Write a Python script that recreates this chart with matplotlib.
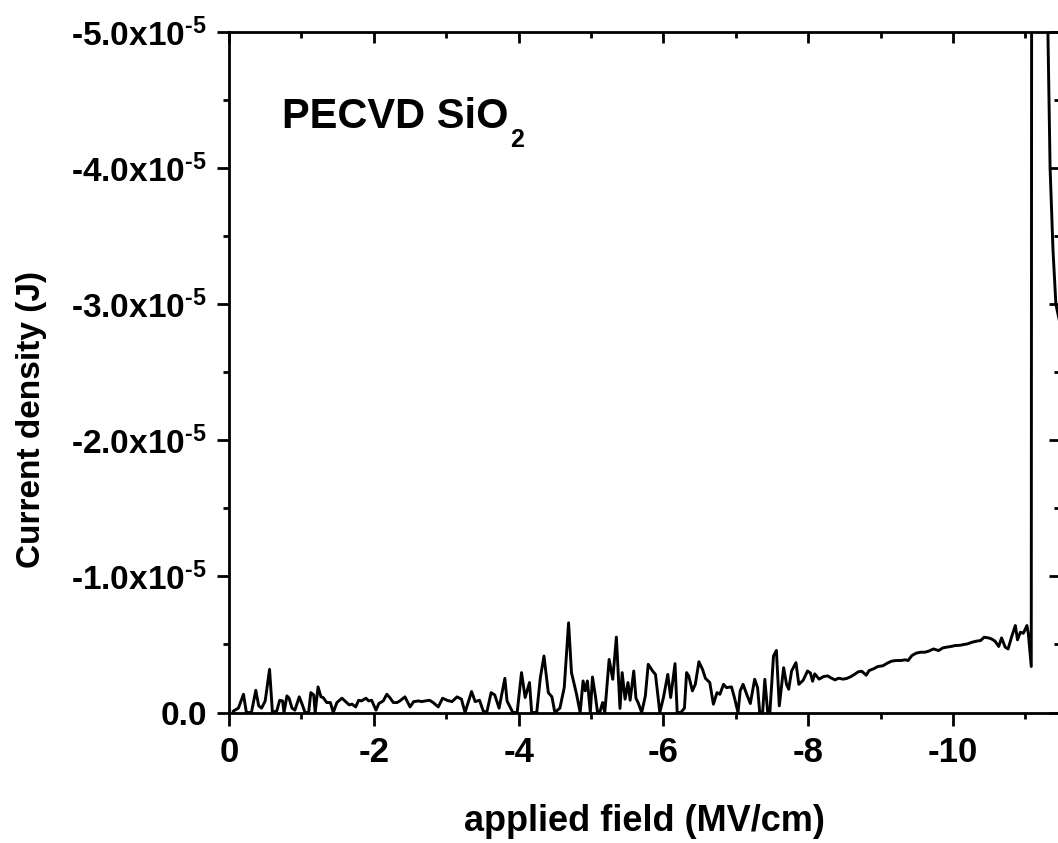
import matplotlib
matplotlib.use('Agg')
import matplotlib.pyplot as plt
from matplotlib.ticker import MultipleLocator, FuncFormatter

plt.rcParams['font.family'] = ['Liberation Sans', 'DejaVu Sans']
plt.rcParams['font.weight'] = 'bold'
plt.rcParams['axes.unicode_minus'] = False
plt.rcParams['mathtext.fontset'] = 'custom'
plt.rcParams['mathtext.rm'] = 'Liberation Sans:bold'
plt.rcParams['mathtext.bf'] = 'Liberation Sans:bold'
plt.rcParams['mathtext.it'] = 'Liberation Sans:bold'
plt.rcParams['mathtext.default'] = 'rm'

# applied field (MV/cm) and current density (in units of 1e-6)
J_UNIT = 1e-6
field = [
    -0.06, -0.08, -0.13, -0.20, -0.24, -0.31, -0.37, -0.41, -0.45, -0.50,
    -0.56, -0.60, -0.66, -0.70, -0.74, -0.76, -0.80, -0.83, -0.87, -0.91,
    -0.97, -1.01, -1.05, -1.10, -1.13, -1.17, -1.19, -1.23, -1.27, -1.30,
    -1.35, -1.40, -1.44, -1.49, -1.56, -1.60, -1.66, -1.70, -1.75, -1.79,
    -1.83, -1.89, -1.93, -1.97, -2.03, -2.07, -2.13, -2.18, -2.22, -2.27,
    -2.32, -2.36, -2.43, -2.50, -2.55, -2.62, -2.66,
    -2.71, -2.77, -2.82, -2.89, -2.95, -3.01, -3.08, -3.15, -3.21, -3.26,
    -3.31, -3.35, -3.40, -3.46, -3.51, -3.56, -3.62, -3.67, -3.73, -3.81,
    -3.84, -3.92, -3.98, -4.04, -4.09, -4.15, -4.18, -4.25, -4.30, -4.35,
    -4.41, -4.46, -4.50, -4.57, -4.63, -4.69, -4.73, -4.80, -4.85, -4.89,
    -4.92, -4.95, -4.99, -5.02, -5.06, -5.09, -5.12, -5.16, -5.19, -5.25,
    -5.30, -5.35, -5.40,
    -5.43, -5.47, -5.51, -5.54, -5.59, -5.62, -5.65, -5.70, -5.75, -5.79,
    -5.85, -5.89, -5.95, -6.00, -6.06, -6.10, -6.16, -6.19, -6.24, -6.29,
    -6.32, -6.35, -6.40, -6.44, -6.49, -6.54, -6.58, -6.64, -6.69, -6.74,
    -6.78, -6.83, -6.87, -6.94, -6.98, -7.03, -7.06, -7.10, -7.15, -7.20,
    -7.26, -7.30, -7.33, -7.37, -7.40, -7.44, -7.47, -7.52, -7.56, -7.60,
    -7.66, -7.70, -7.73, -7.77, -7.83, -7.87, -7.93, -7.99, -8.03, -8.06,
    -8.09, -8.15, -8.21, -8.27, -8.31, -8.37, -8.42, -8.48, -8.53, -8.59,
    -8.65, -8.69, -8.74, -8.80, -8.84, -8.91, -8.96, -9.03, -9.09, -9.15,
    -9.21, -9.28, -9.34, -9.38, -9.43, -9.49, -9.55, -9.61, -9.66, -9.73,
    -9.80, -9.86, -9.91, -9.97, -10.03, -10.10, -10.14, -10.20, -10.26, -10.32,
    -10.38, -10.43, -10.49, -10.53, -10.58, -10.63, -10.67, -10.72, -10.76, -10.81,
    -10.86, -10.89, -10.93, -10.97, -11.02, -11.04, -11.08, -11.11, -11.20, -11.29,
    -11.31, -11.34, -11.38, -11.42, -11.50,
]
current = [
    -0.10, -0.17, -0.32, -1.34, 0.0, 0.0, -1.63, -0.49, -0.32, -0.85,
    -3.17, 0.0, -0.12, -0.90, -0.85, 0.0, -1.22, -1.05, -0.32, -0.17,
    -1.15, -0.61, 0.0, 0.0, -1.46, -1.29, 0.0, -1.88, -1.15, -1.10,
    -0.73, -0.73, 0.0, -0.73, -1.05, -0.85, -0.56, -0.61, -0.41, -0.90,
    -0.85, -1.05, -0.85, -0.90, -0.17, -0.66, -0.85, -1.34, -1.10, -0.73,
    -0.73, -0.85, -1.15, -0.41, -0.80, -0.85, -0.80,
    -0.85, -0.90, -0.73, -0.41, -1.05, -0.90, -0.80, -1.15, -0.98, 0.0,
    -0.85, -1.54, -0.80, -0.90, -0.12, 0.0, -1.46, -1.29, -0.32, -2.51,
    -0.85, 0.0, 0.0, -2.93, -1.10, -2.20, 0.0, 0.0, -2.56, -4.15,
    -1.46, -1.15, 0.0, -0.32, -1.83, -6.59, -2.93, -1.34, 0.0, -2.32,
    -1.59, -2.32, 0.0, -2.61, -1.22, 0.0, 0.0, -0.73, 0.0, -3.90,
    -2.44, -5.54, -0.30,
    -2.93, -0.98, -2.20, -0.90, -3.05, -1.05, -0.73, 0.0, -1.22, -3.54,
    -3.05, -2.80, 0.0, -1.10, -2.80, -1.10, -3.59, 0.0, 0.0, -0.32,
    -2.93, -2.68, -1.59, -2.07, -3.73, -3.17, -2.51, -2.20, -0.61, -1.46,
    -1.34, -2.07, -1.83, -1.88, -1.10, 0.0, -1.59, -2.07, -1.34, -0.66,
    -2.44, -1.83, 0.0, 0.0, -2.44, 0.0, 0.0, -4.15, -4.56, -0.49,
    -3.29, -2.07, -1.71, -3.05, -3.66, -2.07, -2.37, -3.05, -2.90, -2.30,
    -2.84, -2.45, -2.64, -2.69, -2.55, -2.40, -2.52, -2.45, -2.50, -2.64,
    -2.84, -2.99, -3.03, -2.74, -3.08, -3.23, -3.38, -3.43, -3.62, -3.77,
    -3.82, -3.82, -3.87, -3.82, -4.18, -4.36, -4.43, -4.43, -4.50, -4.67,
    -4.55, -4.75, -4.80, -4.85, -4.92, -4.94, -4.99, -5.04, -5.16, -5.24,
    -5.29, -5.53, -5.48, -5.41, -5.24, -4.85, -5.48, -4.80, -4.67, -5.58,
    -6.39, -5.34, -5.90, -5.82, -6.39, -5.78, -3.38, -300.0, -400.0, -70.0,
    -50.0, -40.0, -34.0, -30.0, -28.0,
]

W, H = 1058, 843
AX_L, AX_R, AX_T, AX_B = 229, 1059.5, 32, 712.5
fig = plt.figure(figsize=(W / 100, H / 100), dpi=100)
ax = fig.add_axes([AX_L / W, 1 - AX_B / H, (AX_R - AX_L) / W, (AX_B - AX_T) / H])

ax.plot(field, [j * J_UNIT for j in current], color='black', lw=2.1)

ax.set_xlim(0, -11.47)
ax.set_ylim(0, -5e-5)

ax.xaxis.set_major_locator(MultipleLocator(2))
ax.xaxis.set_minor_locator(MultipleLocator(1))
ax.yaxis.set_major_locator(MultipleLocator(1e-5))
ax.yaxis.set_minor_locator(MultipleLocator(0.5e-5))


def y_fmt(v, pos):
    if abs(v) < 1e-12:
        return '0.0'
    return r'%.1fx10$^{\text{-5}}$' % (v / 1e-5)


ax.yaxis.set_major_formatter(FuncFormatter(y_fmt))
ax.xaxis.set_major_formatter(FuncFormatter(lambda v, p: '%d' % round(v)))

for s in ax.spines.values():
    s.set_linewidth(2.0)
ax.tick_params(which='major', direction='out', length=9, width=2.0)
ax.tick_params(which='minor', direction='out', length=4, width=2.0)
ax.tick_params(axis='x', which='major', labelsize=25, pad=8)
ax.tick_params(axis='y', which='major', labelsize=24, pad=7)

# top / right ticks point inward
top = ax.secondary_xaxis('top')
top.xaxis.set_major_locator(MultipleLocator(2))
top.xaxis.set_minor_locator(MultipleLocator(1))
top.tick_params(which='major', direction='in', length=8, width=2.0, labeltop=False)
top.tick_params(which='minor', direction='in', length=4, width=2.0)
right = ax.secondary_yaxis('right')
right.yaxis.set_major_locator(MultipleLocator(1e-5))
right.yaxis.set_minor_locator(MultipleLocator(0.5e-5))
right.tick_params(which='major', direction='in', length=8, width=2.0, labelright=False)
right.tick_params(which='minor', direction='in', length=4, width=2.0)

ax.set_xlabel('applied field (MV/cm)', fontsize=26, fontweight='bold', labelpad=25)
ax.set_ylabel('Current density (J)', fontsize=24, fontweight='bold')
ax.yaxis.set_label_coords((47 - AX_L) / (AX_R - AX_L), 0.43)

ax.text((282 - AX_L) / (AX_R - AX_L), (AX_B - 128) / (AX_B - AX_T), 'PECVD SiO',
        transform=ax.transAxes, fontsize=30, fontweight='bold', va='baseline', ha='left')
ax.text((510 - AX_L) / (AX_R - AX_L), (AX_B - 128) / (AX_B - AX_T), '2',
        transform=ax.transAxes, fontsize=18, fontweight='bold', va='top', ha='left')

fig.savefig('out.png', dpi=100)
